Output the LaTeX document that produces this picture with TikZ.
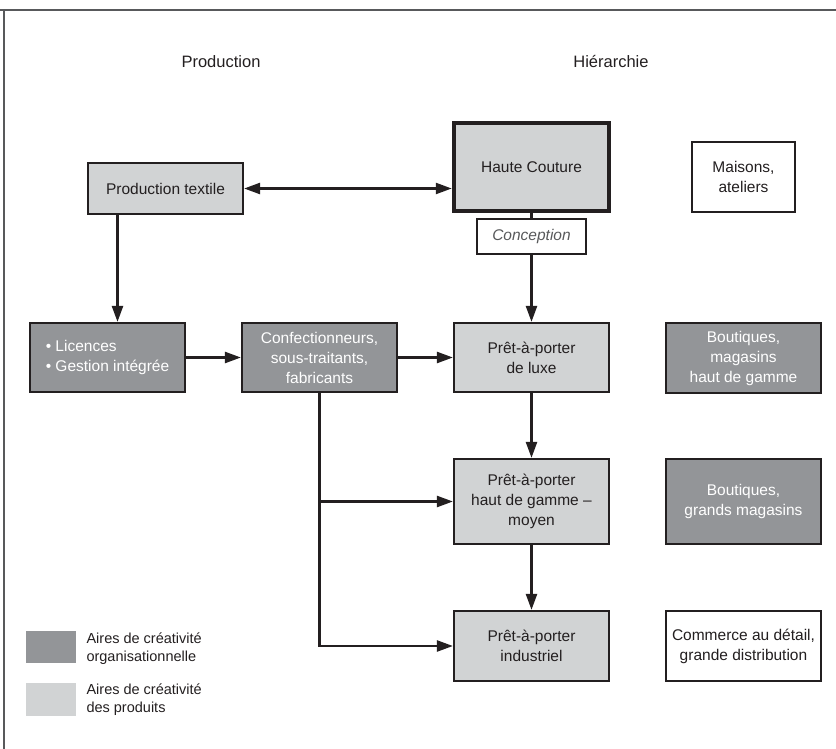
\documentclass[tikz,border=0pt]{standalone}
\usepackage{fontspec}
\setmainfont{Liberation Sans}
\usetikzlibrary{arrows.meta}
\definecolor{darkarea}{HTML}{939598}
\definecolor{lightarea}{HTML}{D1D3D4}
\definecolor{ink}{HTML}{231F20}
\definecolor{framegray}{HTML}{58595B}

\begin{document}
\begin{tikzpicture}[x=1pt, y=-1pt,
    box/.style={draw=ink, line width=2.2pt, align=center, inner sep=0pt, text=ink,
        font=\fontsize{15.5}{20}\selectfont},
    orgbox/.style={box, fill=darkarea, text=white},
    prodbox/.style={box, fill=lightarea},
    plainbox/.style={box, fill=white},
    link/.style={draw=ink, line width=2.4pt},
    arr/.style={link, -{Triangle[length=16pt,width=11pt]}},
    twoway/.style={link, {Triangle[length=16pt,width=11pt]}-{Triangle[length=16pt,width=11pt]}},
    head/.style={font=\fontsize{16.5}{19}\selectfont, text=ink},
    keytext/.style={anchor=west, align=left, text=ink, font=\fontsize{14.5}{18}\selectfont}]
\useasboundingbox (0,0) rectangle (836,749);
% frame
\draw[framegray, line width=2pt] (0,10) -- (836,10);
\draw[framegray, line width=1.5pt] (4,10) -- (4,749);

% column titles
\node[head] (prodhead) at (221,62) {Production};
\node[head] (hierhead) at (611,62) {Hiérarchie};

% top row
\node[prodbox, minimum width=155pt, minimum height=51pt] (textile) at (165.5,188.5) {Production textile};
\node[prodbox, line width=4.5pt, minimum width=155pt, minimum height=88pt] (couture) at (531.5,167) {Haute Couture};
\node[plainbox, minimum width=109pt, minimum height=35pt, text=framegray, font=\fontsize{15.5}{20}\selectfont\itshape] (concept) at (531.5,236.5) {Conception};
\node[plainbox, minimum width=103pt, minimum height=70pt] (maisons) at (743.5,177) {Maisons,\\ateliers};

% second row
\node[orgbox, minimum width=155pt, minimum height=69pt, align=left] (licences) at (107.5,357.5) {\textbullet\ Licences\\\textbullet\ Gestion intégrée};
\node[orgbox, minimum width=155pt, minimum height=69pt] (confect) at (319.5,357.5) {Confectionneurs,\\sous-traitants,\\fabricants};
\node[prodbox, minimum width=155pt, minimum height=69pt] (luxe) at (531.5,357.5) {Prêt-à-porter\\de luxe};
\node[orgbox, minimum width=155pt, minimum height=70pt] (boutluxe) at (743.5,358) {Boutiques,\\magasins\\haut de gamme};

% third row
\node[prodbox, minimum width=155pt, minimum height=85pt] (moyen) at (531.5,501.5) {Prêt-à-porter\\haut de gamme –\\moyen};
\node[orgbox, minimum width=155pt, minimum height=85pt] (grands) at (743.5,501.5) {Boutiques,\\grands magasins};

% fourth row
\node[prodbox, minimum width=155pt, minimum height=70pt] (indus) at (531.5,646) {Prêt-à-porter\\industriel};
\node[plainbox, minimum width=155pt, minimum height=70pt] (detail) at (743.5,646) {Commerce au détail,\\grande distribution};

% connectors
\draw[twoway] (textile.east) -- (couture.west |- textile.east);
\draw[link] (couture.south) -- (concept.north);
\draw[arr] (concept.south) -- (luxe.north);
\draw[arr] ([xshift=-48pt]textile.south) -- ([xshift=-48pt]textile.south |- licences.north);
\draw[arr] (licences.east) -- (confect.west);
\draw[arr] (confect.east) -- (luxe.west);
\draw[arr] (luxe.south) -- (moyen.north);
\draw[arr] (moyen.south) -- (indus.north);
\draw[arr] (confect.south) -- (confect.south |- indus.west) -- (indus.west);
\draw[arr] (confect.south |- moyen.west) -- (moyen.west);

% legend
\node[fill=darkarea, minimum width=50pt, minimum height=32pt, inner sep=0pt] (keyorg) at (51,647) {};
\node[keytext] (keyorgtext) at (83,649) {Aires de créativité\\organisationnelle};
\node[fill=lightarea, minimum width=50pt, minimum height=33pt, inner sep=0pt] (keyprod) at (51,699.5) {};
\node[keytext] (keyprodtext) at (83,700) {Aires de créativité\\des produits};
\end{tikzpicture}
\end{document}
